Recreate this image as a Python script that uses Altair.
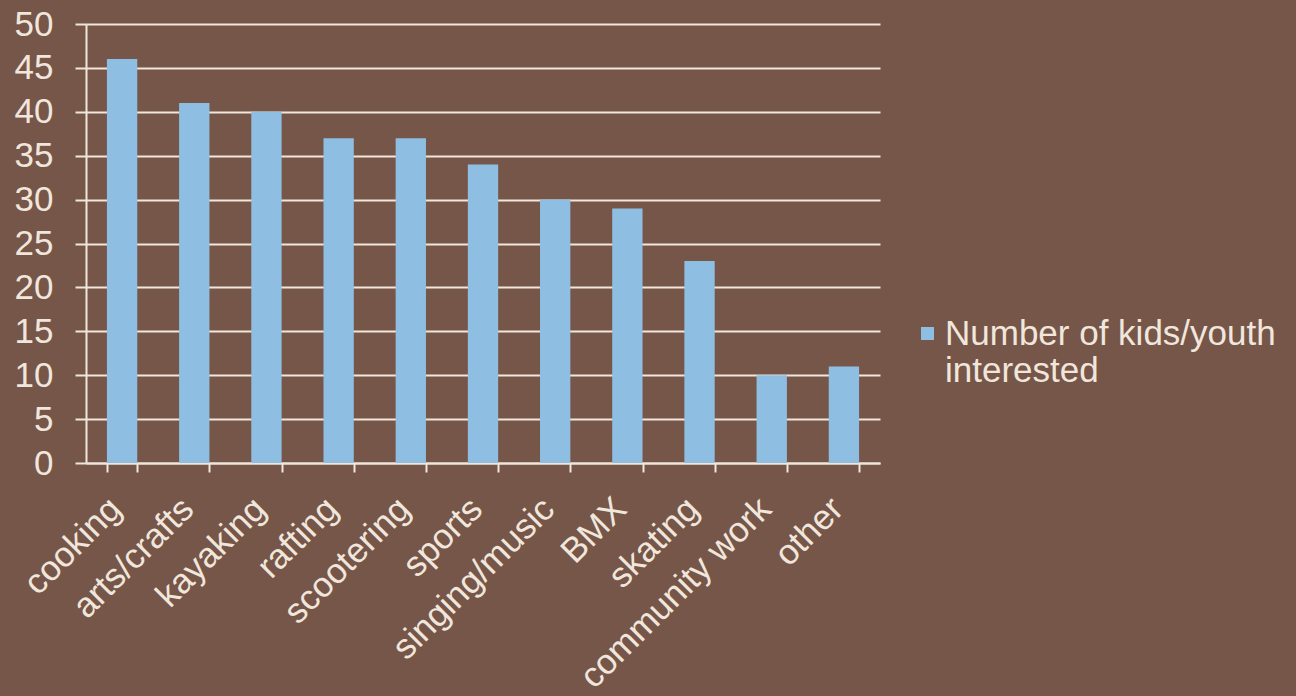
import altair as alt
import pandas as pd

categories = ["cooking", "arts/crafts", "kayaking", "rafting", "scootering", "sports",
              "singing/music", "BMX", "skating", "community work", "other"]
values = [46, 41, 40, 37, 37, 34, 30, 29, 23, 10, 11]
series_name = "Number of kids/youth interested"
y_ticks = [0, 5, 10, 15, 20, 25, 30, 35, 40, 45, 50]

df = pd.DataFrame({"activity": categories, "count": values, "series": [series_name] * len(categories)})

BG = "#765649"
CREAM = "#f1e6dc"
BAR = "#8ebfe3"
FONT = "Liberation Sans"

chart = alt.Chart(df).mark_bar(color=BAR).encode(
    x=alt.X("activity:N", sort=categories, title=None,
            scale=alt.Scale(paddingInner=0.58, paddingOuter=0.29),
            axis=alt.Axis(labelAngle=-45, labelFontSize=35, labelColor=CREAM, labelFont=FONT,
                          labelAlign="right", labelBaseline="middle", labelOffset=-7,
                          labelLimit=600, labelOverlap=False,
                          tickBand="extent", tickColor=CREAM, tickSize=9, tickWidth=2,
                          domainColor=CREAM, domainWidth=2, labelPadding=31, grid=False)),
    y=alt.Y("count:Q", title=None,
            scale=alt.Scale(domain=[0, 50], nice=False),
            axis=alt.Axis(values=y_ticks, labelFontSize=35, labelColor=CREAM, labelFont=FONT,
                          tickColor=CREAM, tickSize=11, tickWidth=2, labelPadding=22,
                          domainColor=CREAM, domainWidth=2,
                          grid=True, gridColor=CREAM, gridWidth=2)),
    fill=alt.Fill("series:N", scale=alt.Scale(range=[BAR]),
                  legend=alt.Legend(title=None, orient="none", legendX=824, legendY=292,
                                    symbolType="square", symbolSize=169, symbolStrokeWidth=0,
                                    labelFontSize=35, labelColor=CREAM, labelFont=FONT,
                                    labelLimit=400, labelOffset=0,
                                    labelExpr="['Number of kids/youth', 'interested']")),
).properties(
    width=794, height=439, background=BG,
    padding={"left": 86, "top": 24, "right": 416, "bottom": 233},
    autosize=alt.AutoSizeParams(type="none"),
).configure_view(stroke=None)

chart.save("out.html", embed_options={"renderer": "svg", "actions": False})
